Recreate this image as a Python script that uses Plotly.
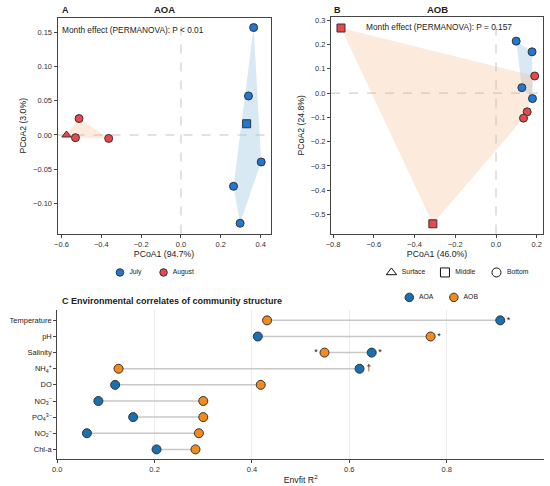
import plotly.graph_objects as go

# --- Panel A: AOA PCoA ---
aoa_july_x = [0.365, 0.339, 0.330, 0.403, 0.264, 0.297]
aoa_july_y = [0.157, 0.057, 0.0164, -0.0395, -0.075, -0.129]
aoa_july_layer = ["Bottom", "Bottom", "Middle", "Bottom", "Bottom", "Bottom"]
aoa_aug_x = [-0.575, -0.530, -0.512, -0.363]
aoa_aug_y = [0.0, -0.004, 0.024, -0.005]
aoa_aug_layer = ["Surface", "Bottom", "Bottom", "Bottom"]

# --- Panel B: AOB PCoA ---
aob_july_x = [0.099, 0.177, 0.127, 0.179]
aob_july_y = [0.214, 0.170, 0.0225, -0.0225]
aob_july_layer = ["Bottom", "Bottom", "Bottom", "Bottom"]
aob_aug_x = [-0.761, -0.310, 0.190, 0.153, 0.135]
aob_aug_y = [0.268, -0.538, 0.0705, -0.077, -0.103]
aob_aug_layer = ["Middle", "Middle", "Bottom", "Bottom", "Bottom"]

# --- Panel C: envfit ---
variables = ["Temperature", "pH", "Salinity", "NH4+", "DO", "NO3-", "PO43-", "NO2-", "Chl-a"]
var_labels = ["Temperature", "pH", "Salinity", "NH<sub>4</sub><sup>+</sup>", "DO",
              "NO<sub>3</sub><sup>−</sup>", "PO<sub>4</sub><sup>3−</sup>",
              "NO<sub>2</sub><sup>−</sup>", "Chl-a"]
r2_aoa = [0.910, 0.412, 0.646, 0.621, 0.119, 0.0845, 0.156, 0.061, 0.204]
r2_aob = [0.431, 0.767, 0.549, 0.126, 0.418, 0.300, 0.300, 0.291, 0.284]
sig_aoa = ["*", "", "*", "†", "", "", "", "", ""]
sig_aob = ["", "*", "*", "", "", "", "", "", ""]

JULY = "#1f78d4"
AUG = "#e8474c"
C_AOA = "#1a6fb0"
C_AOB = "#f28a1e"
EDGE = "#333333"
FONT = "Liberation Sans"
symbols = {"Surface": "triangle-up", "Middle": "square", "Bottom": "circle"}

W, H = 550, 486


def fx(px):
    return px / W


def fy(py):
    return 1 - py / H


def hull(xs, ys):
    pts = sorted(set(zip(xs, ys)))
    if len(pts) < 3:
        return pts

    def cross(o, a, b):
        return (a[0] - o[0]) * (b[1] - o[1]) - (a[1] - o[1]) * (b[0] - o[0])

    lower, upper = [], []
    for p in pts:
        while len(lower) >= 2 and cross(lower[-2], lower[-1], p) <= 0:
            lower.pop()
        lower.append(p)
    for p in reversed(pts):
        while len(upper) >= 2 and cross(upper[-2], upper[-1], p) <= 0:
            upper.pop()
        upper.append(p)
    return lower[:-1] + upper[:-1]


fig = go.Figure()

groups = [
    (aoa_july_x, aoa_july_y, aoa_july_layer, JULY, "rgba(160,200,225,0.4)", "x", "y"),
    (aoa_aug_x, aoa_aug_y, aoa_aug_layer, AUG, "rgba(245,175,120,0.25)", "x", "y"),
    (aob_july_x, aob_july_y, aob_july_layer, JULY, "rgba(160,200,225,0.4)", "x2", "y2"),
    (aob_aug_x, aob_aug_y, aob_aug_layer, AUG, "rgba(245,175,120,0.25)", "x2", "y2"),
]

# hulls first, points on top
for xs, ys, layers, color, fill, xa, ya in groups:
    h = hull(xs, ys)
    fig.add_trace(go.Scatter(
        x=[p[0] for p in h] + [h[0][0]], y=[p[1] for p in h] + [h[0][1]],
        fill="toself", fillcolor=fill, mode="lines", line=dict(width=0),
        hoverinfo="skip", xaxis=xa, yaxis=ya))
for xs, ys, layers, color, fill, xa, ya in groups:
    fig.add_trace(go.Scatter(
        x=xs, y=ys, mode="markers",
        marker=dict(color=color, size=8, symbol=[symbols[l] for l in layers],
                    line=dict(color=EDGE, width=1)),
        xaxis=xa, yaxis=ya))

# panel C connectors
seg_x, seg_y = [], []
for v, a, b in zip(variables, r2_aoa, r2_aob):
    seg_x += [a, b, None]
    seg_y += [v, v, None]
fig.add_trace(go.Scatter(x=seg_x, y=seg_y, mode="lines", line=dict(color="#c8c8c8", width=1.5),
                         hoverinfo="skip", xaxis="x3", yaxis="y3"))

pos_aoa = ["middle right" if a >= b else "middle left" for a, b in zip(r2_aoa, r2_aob)]
pos_aob = ["middle right" if b > a else "middle left" for a, b in zip(r2_aoa, r2_aob)]
fig.add_trace(go.Scatter(
    x=r2_aoa, y=variables, mode="markers+text",
    text=sig_aoa, textposition=pos_aoa, textfont=dict(size=9, color="#111111"),
    marker=dict(color=C_AOA, size=9, line=dict(color=EDGE, width=1)),
    xaxis="x3", yaxis="y3"))
fig.add_trace(go.Scatter(
    x=r2_aob, y=variables, mode="markers+text",
    text=sig_aob, textposition=pos_aob, textfont=dict(size=9, color="#111111"),
    marker=dict(color=C_AOB, size=9, line=dict(color=EDGE, width=1)),
    xaxis="x3", yaxis="y3"))

# legend keys, drawn on a hidden page-pixel axis so they sit as compact as in the original
key_x = [116, 160, 390, 444, 496, 408, 453]
key_y = [272, 272, 272, 272, 272, 297, 297]
key_sym = ["circle", "circle", "triangle-up-open", "square-open", "circle-open", "circle", "circle"]
key_fill = [JULY, AUG, "#111111", "#111111", "#111111", C_AOA, C_AOB]
key_edge = [EDGE, EDGE, "#111111", "#111111", "#111111", EDGE, EDGE]
key_text = ["July", "August", "Surface", "Middle", "Bottom", "AOA", "AOB"]
fig.add_trace(go.Scatter(
    x=key_x, y=key_y, mode="markers+text",
    text=["  " + t for t in key_text], textposition="middle right",
    textfont=dict(size=6.8, color="#222222"),
    marker=dict(size=[7.5, 7.5, 9, 9, 9, 8.5, 8.5], symbol=key_sym, color=key_fill,
                opacity=1, line=dict(color=key_edge, width=1)),
    opacity=1, hoverinfo="skip", xaxis="x4", yaxis="y4"))

# dashed reference lines at zero in the PCoA panels
for xa, ya in [("x", "y"), ("x2", "y2")]:
    fig.add_shape(type="line", xref=xa, yref=ya + " domain", x0=0, x1=0, y0=0, y1=1,
                  line=dict(color="#c4c4c4", width=1, dash="dash"), layer="below")
    fig.add_shape(type="line", xref=xa + " domain", yref=ya, x0=0, x1=1, y0=0, y1=0,
                  line=dict(color="#c4c4c4", width=1, dash="dash"), layer="below")

frame = dict(showline=True, linecolor="#444444", linewidth=1, mirror=True, ticks="outside",
             ticklen=3, tickcolor="#444444", showgrid=False, zeroline=False,
             tickfont=dict(size=7.5, color="#333333"))
tfont = dict(size=8.7)

fig.update_layout(
    width=W, height=H,
    margin=dict(l=0, r=0, t=0, b=0),
    showlegend=False,
    plot_bgcolor="rgba(0,0,0,0)", paper_bgcolor="white",
    font=dict(family=FONT, color="#222222"),
    xaxis=dict(domain=[fx(53), fx(268)], range=[-0.62, 0.45], anchor="y",
               tickvals=[-0.6, -0.4, -0.2, 0.0, 0.2, 0.4],
               ticktext=["−0.6", "−0.4", "−0.2", "0.0", "0.2", "0.4"],
               title=dict(text="PCoA1 (94.7%)", font=tfont, standoff=3), **frame),
    yaxis=dict(domain=[fy(233), fy(17)], range=[-0.144, 0.171], anchor="x",
               tickvals=[-0.10, -0.05, 0.0, 0.05, 0.10, 0.15],
               ticktext=["−0.10", "−0.05", "0.00", "0.05", "0.10", "0.15"],
               title=dict(text="PCoA2 (3.0%)", font=tfont, standoff=4), **frame),
    xaxis2=dict(domain=[fx(329), fx(543)], range=[-0.81, 0.231], anchor="y2",
                tickvals=[-0.8, -0.6, -0.4, -0.2, 0.0, 0.2],
                ticktext=["−0.8", "−0.6", "−0.4", "−0.2", "0.0", "0.2"],
                title=dict(text="PCoA1 (46.0%)", font=tfont, standoff=3), **frame),
    yaxis2=dict(domain=[fy(233), fy(16)], range=[-0.578, 0.3135], anchor="x2",
                tickvals=[-0.5, -0.4, -0.3, -0.2, -0.1, 0.0, 0.1, 0.2, 0.3],
                ticktext=["−0.5", "−0.4", "−0.3", "−0.2", "−0.1", "0.0", "0.1", "0.2", "0.3"],
                title=dict(text="PCoA2 (24.8%)", font=tfont, standoff=4), **frame),
    xaxis3=dict(domain=[fx(52.7), fx(544)], range=[0, 1.0], anchor="y3",
                tickvals=[0.0, 0.2, 0.4, 0.6, 0.8],
                ticktext=["0.0", "0.2", "0.4", "0.6", "0.8"],
                showline=True, linecolor="#444444", linewidth=1, ticks="outside", ticklen=3,
                tickcolor="#444444", showgrid=True, gridcolor="#ececec", gridwidth=1,
                zeroline=False, tickfont=dict(size=7.5, color="#333333"),
                title=dict(text="Envfit R<sup>2</sup>", font=tfont, standoff=3)),
    yaxis3=dict(domain=[fy(459), fy(310)], anchor="x3", type="category",
                categoryarray=variables, range=[8.6, -0.62],
                tickvals=variables, ticktext=var_labels,
                showline=True, linecolor="#444444", linewidth=1, ticks="outside", ticklen=3,
                tickcolor="#444444", showgrid=False, zeroline=False,
                tickfont=dict(size=7.5, color="#222222")),
    xaxis4=dict(domain=[0, 1], range=[0, W], anchor="y4", visible=False, fixedrange=True),
    yaxis4=dict(domain=[0, 1], range=[H, 0], anchor="x4", visible=False, fixedrange=True),
    annotations=[
        dict(text="<b>A</b>", x=fx(55), y=fy(9), xref="paper", yref="paper",
             xanchor="left", yanchor="middle", showarrow=False, font=dict(size=9)),
        dict(text="<b>AOA</b>", x=fx(160.5), y=fy(9), xref="paper", yref="paper",
             xanchor="center", yanchor="middle", showarrow=False, font=dict(size=9.5)),
        dict(text="<b>B</b>", x=fx(330), y=fy(9), xref="paper", yref="paper",
             xanchor="left", yanchor="middle", showarrow=False, font=dict(size=9)),
        dict(text="<b>AOB</b>", x=fx(436), y=fy(9), xref="paper", yref="paper",
             xanchor="center", yanchor="middle", showarrow=False, font=dict(size=9.5)),
        dict(text="Month effect (PERMANOVA): P < 0.01", x=fx(56), y=fy(29),
             xref="paper", yref="paper", xanchor="left", yanchor="middle",
             showarrow=False, font=dict(size=8.3)),
        dict(text="Month effect (PERMANOVA): P = 0.157", x=fx(438), y=fy(26),
             xref="paper", yref="paper", xanchor="center", yanchor="middle",
             showarrow=False, font=dict(size=8.3)),
        dict(text="<b>C Environmental correlates of community structure</b>", x=fx(56),
             y=fy(301), xref="paper", yref="paper", xanchor="left", yanchor="middle",
             showarrow=False, font=dict(size=9)),
    ],
)

fig.write_html("out.html", config={"responsive": False, "displayModeBar": False},
               post_script="document.body.style.margin = '0';")
